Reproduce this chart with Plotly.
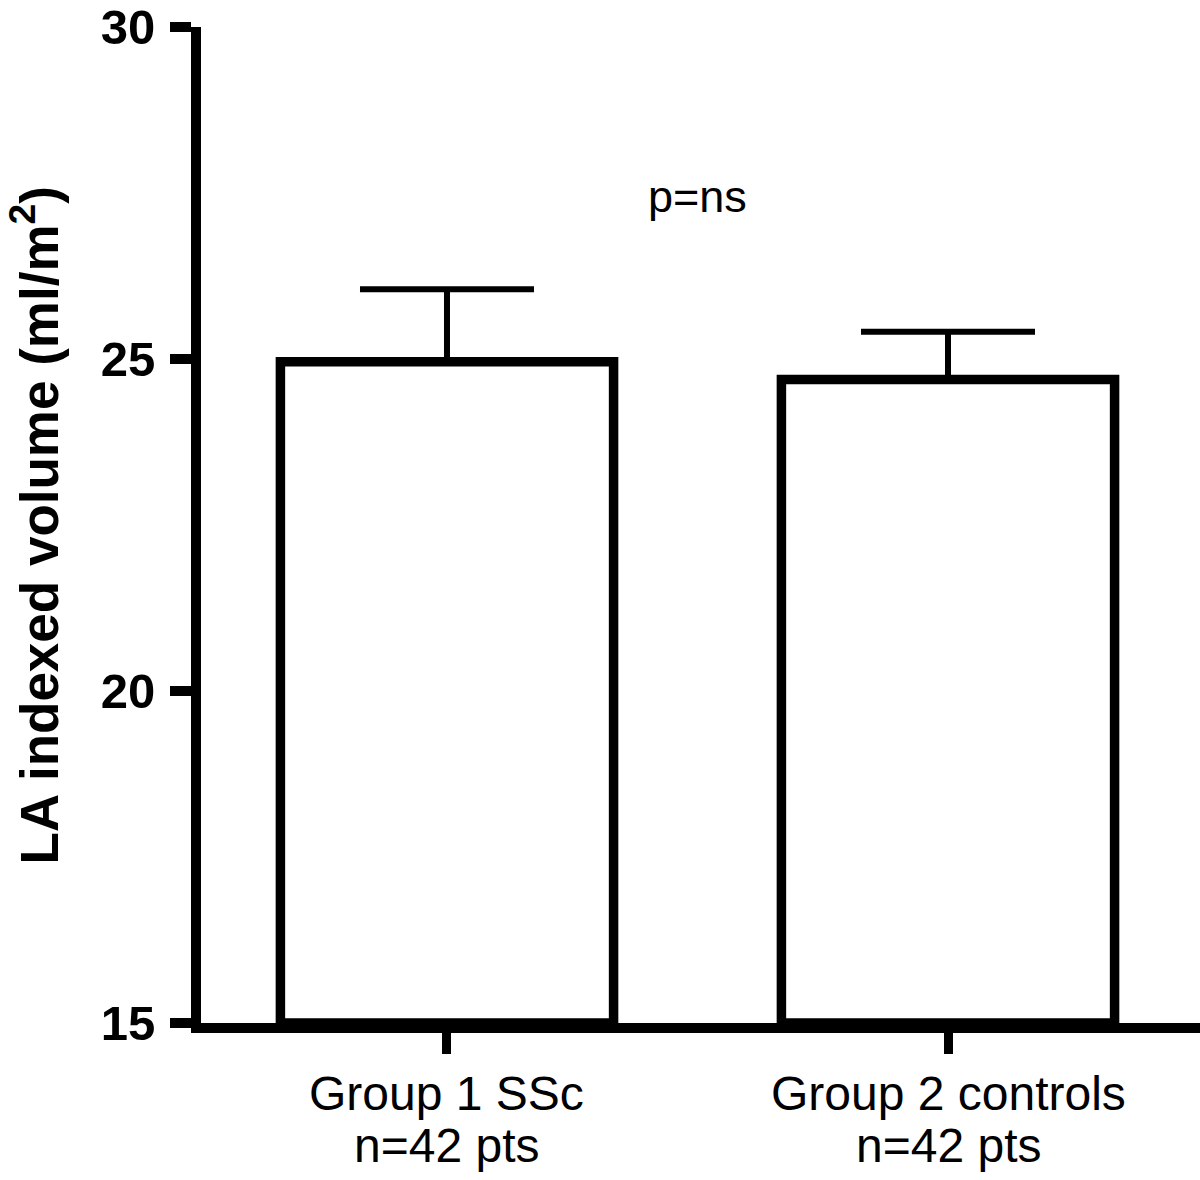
import plotly.graph_objects as go

categories = ["Group 1 SSc", "Group 2 controls"]
n_labels = ["n=42 pts", "n=42 pts"]
means = [24.96, 24.69]
sem = [1.09, 0.72]
y_ticks = [15, 20, 25, 30]

W, H = 1200, 1180
ML, MR, MT, MB = 201, 0, 20, 157
PLOT_TOP, PLOT_BOTTOM = MT, H - MB
PLOT_LEFT = ML
PW = W - ML - MR

def py(p):  # page pixel y -> paper
    return (PLOT_BOTTOM - p) / (PLOT_BOTTOM - PLOT_TOP)

def px(p):  # page pixel x -> paper
    return (p - PLOT_LEFT) / PW

FONT = "Liberation Sans, Arial, Helvetica, sans-serif"

fig = go.Figure()
fig.add_trace(go.Bar(
    x=[0, 1], y=[m - 15 for m in means], base=15,
    width=0.665,
    marker=dict(color="white", line=dict(color="black", width=9.5)),
    error_y=dict(type="data", symmetric=False, array=sem, arrayminus=[0, 0],
                 color="black", thickness=6, width=87),
    showlegend=False, hoverinfo="skip",
))

for i, (c, n) in enumerate(zip(categories, n_labels)):
    fig.add_annotation(x=i, y=py(1094), xref="x", yref="paper", text=c, showarrow=False,
                       font=dict(family=FONT, size=48, color="black"), yanchor="middle")
    fig.add_annotation(x=i, y=py(1146), xref="x", yref="paper", text=n, showarrow=False,
                       font=dict(family=FONT, size=48, color="black"), yanchor="middle")

fig.add_annotation(text="p=ns", x=px(697), xref="paper", y=py(191), yref="paper",
                   showarrow=False, xanchor="center", yanchor="middle",
                   font=dict(family=FONT, size=45, color="black"))

fig.add_annotation(text="<b>LA indexed volume (ml/m<sup>2</sup>)</b>", textangle=-90,
                   x=px(35), xref="paper", y=py(522), yref="paper",
                   showarrow=False, xanchor="center", yanchor="middle",
                   font=dict(family=FONT, size=53, color="black"))

fig.update_layout(
    width=W, height=H,
    margin=dict(l=ML, r=MR, t=MT, b=MB, pad=0),
    paper_bgcolor="white", plot_bgcolor="white",
)

fig.update_xaxes(
    range=[-0.491, 1.503], tickvals=[0, 1], showticklabels=False,
    showline=True, linecolor="black", linewidth=9.5,
    ticks="outside", ticklen=21, tickwidth=9, tickcolor="black",
    showgrid=False, zeroline=False,
)
fig.update_yaxes(
    range=[15, 30], tickvals=y_ticks, ticktext=[str(t) for t in y_ticks],
    showline=True, linecolor="black", linewidth=10,
    ticks="outside", ticklen=21, tickwidth=10, tickcolor="black",
    ticklabeloverflow="allow", ticklabelstandoff=5,
    tickfont=dict(family=FONT, size=49, color="black", weight="bold"),
    showgrid=False, zeroline=False,
)

fig.write_html("out.html", config={"displayModeBar": False},
               post_script="document.body.style.margin='0';document.body.style.padding='0';")
